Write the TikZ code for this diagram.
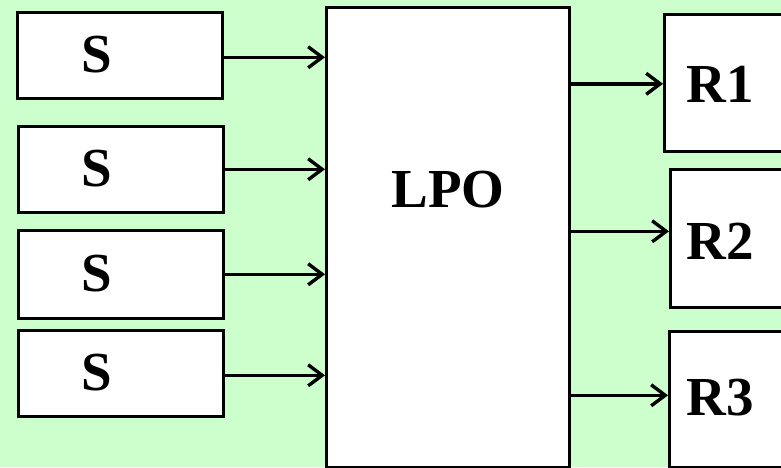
\documentclass[tikz,border=0pt]{standalone}
\usepackage{fontspec}
\setmainfont{Liberation Serif}
\usepackage{tikz}
\usetikzlibrary{positioning,arrows.meta}
\definecolor{lpogreen}{HTML}{CCFFCC}

\begin{document}
\begin{tikzpicture}[x=1pt,y=-1pt,
  blk/.style={draw=black,fill=white,line width=2.6pt,inner sep=0pt,anchor=north west},
  lbl/.style={font=\fontsize{55}{55}\selectfont\bfseries},
  arr/.style={-{Straight Barb[length=14pt,width=21pt,line width=3.4pt]},line width=3.4pt,black}
]
\fill[lpogreen] (0,0) rectangle (781,467);
\useasboundingbox (0,0) rectangle (781,467);
\clip (0,0) rectangle (781,467);
% senders
\node[blk,minimum width=205pt,minimum height=86pt] (s1) at (16,11) {};
\node[blk,minimum width=205pt,minimum height=86pt] (s2) at (17,125) {};
\node[blk,minimum width=205pt,minimum height=88pt] (s3) at (17,229) {};
\node[blk,minimum width=205pt,minimum height=86pt] (s4) at (17,329) {};
\node[lbl] (t1) at (97,55) {S};
\node[lbl] (t2) at (97,169) {S};
\node[lbl] (t3) at (97,274) {S};
\node[lbl] (t4) at (97,373) {S};
% central block
\node[blk,minimum width=243pt,minimum height=460pt] (lpo) at (325,6) {};
\node[lbl] (tlpo) at (448,190) {LPO};
% receivers
\node[blk,minimum width=140pt,minimum height=137pt] (r1) at (663,13) {};
\node[blk,minimum width=140pt,minimum height=138pt] (r2) at (669,168) {};
\node[blk,minimum width=140pt,minimum height=136pt] (r3) at (668,330) {};
\node[lbl] (tr1) at (720,84) {R1};
\node[lbl] (tr2) at (720,241) {R2};
\node[lbl] (tr3) at (720,398) {R3};

\draw[arr] ([yshift=-2pt]s1.east) -- ([yshift=-2pt]s1.east -| lpo.west);
\draw[arr] (s2.east) -- (s2.east -| lpo.west);
\draw[arr] (s3.east) -- (s3.east -| lpo.west);
\draw[arr] ([yshift=-2pt]s4.east) -- ([yshift=-2pt]s4.east -| lpo.west);
\draw[arr] ([yshift=-1pt]r1.west -| lpo.east) -- ([yshift=-1pt]r1.west);
\draw[arr] ([yshift=7pt]r2.west -| lpo.east) -- ([yshift=7pt]r2.west);
\draw[arr] ([yshift=4pt]r3.west -| lpo.east) -- ([yshift=4pt]r3.west);
\end{tikzpicture}
\end{document}
